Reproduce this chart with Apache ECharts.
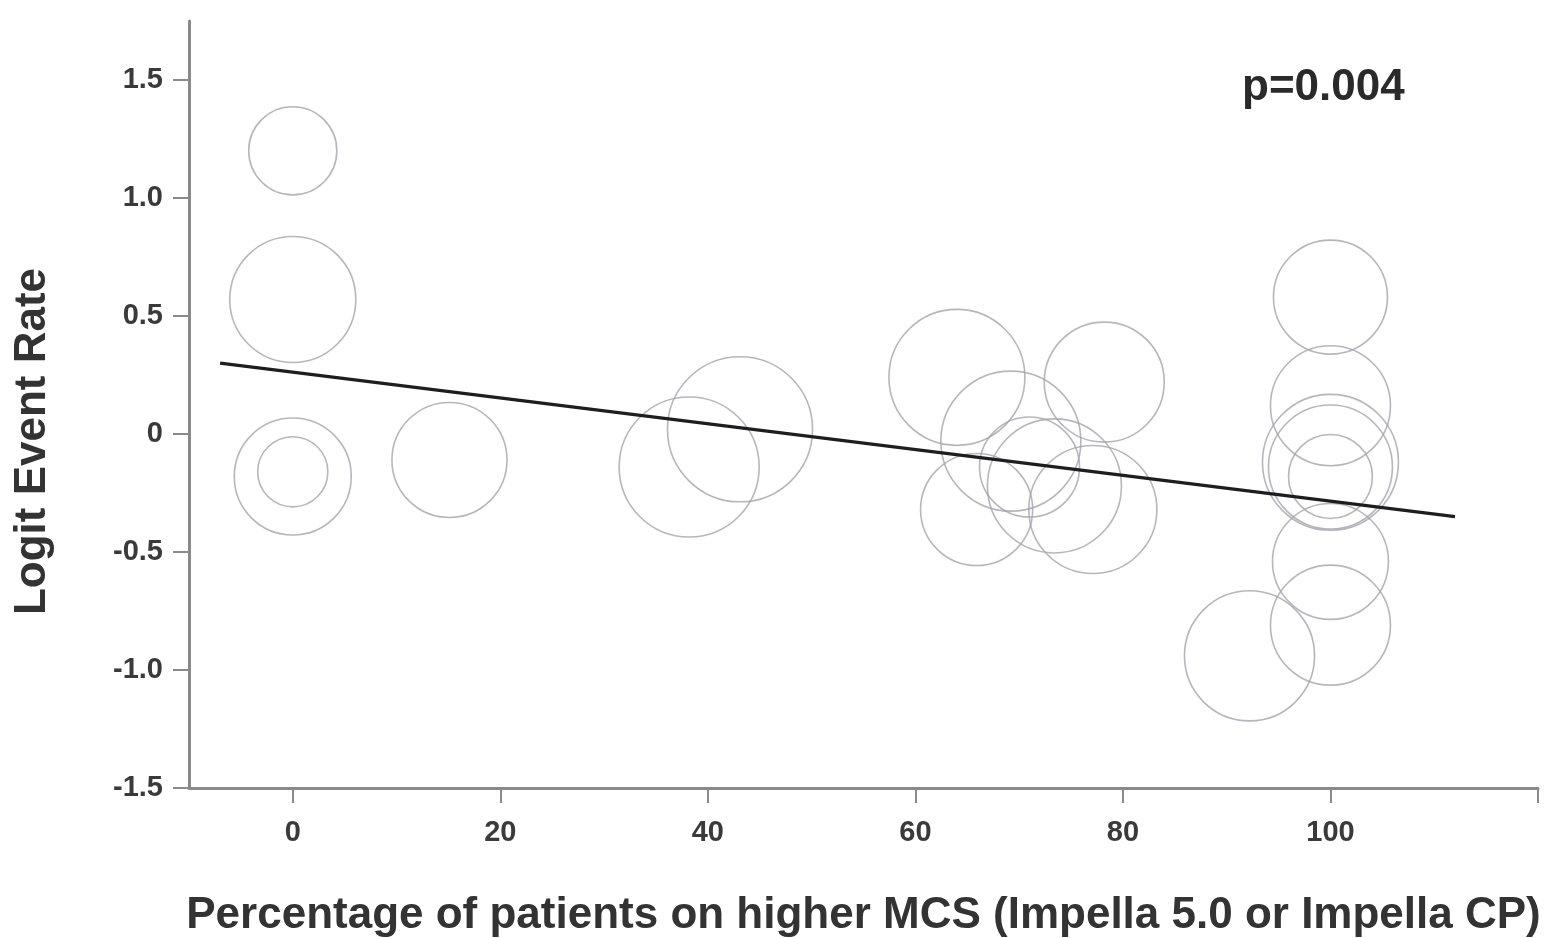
<!DOCTYPE html>
<html>
<head>
<meta charset="utf-8">
<script src="https://cdn.jsdelivr.net/npm/echarts@6/dist/echarts.min.js"></script>
<style>
html,body{margin:0;padding:0;background:#fff;}
#chart{width:1555px;height:938px;}
</style>
</head>
<body>
<div id="chart"></div>
<script>
// Study-level data: percentage on higher MCS, logit event rate, relative study weight
const pctHigherMCS = [0, 0, 0, 0, 15.1, 38.2, 43.1, 64.0, 78.2, 69.2, 71.0, 65.9, 73.4, 77.1,
  100, 100, 100, 100, 100, 100, 100, 92.2];
const logitEventRate = [1.20, 0.57, -0.18, -0.16, -0.11, -0.14, 0.02, 0.24, 0.22, -0.03, -0.14, -0.32, -0.22, -0.32,
  0.58, 0.12, -0.12, -0.14, -0.18, -0.54, -0.81, -0.94];
const studyWeight = [19.4, 39.7, 34.2, 12.3, 33.1, 49.0, 52.6, 46.2, 36.0, 49.0, 25.0, 31.4, 44.9, 41.0,
  32.5, 36.0, 46.2, 38.4, 17.6, 33.6, 36.0, 42.3];
// Meta-regression fitted line endpoints
const fitX = [-7, 112];
const fitY = [0.30, -0.35];
const xTickValues = [0, 20, 40, 60, 80, 100, 120];
const xLabelValues = [0, 20, 40, 60, 80, 100];
const yTickValues = [-1.5, -1.0, -0.5, 0, 0.5, 1.0, 1.5];
const pValueText = 'p=0.004';

const scatterData = pctHigherMCS.map((x, i) => [x, logitEventRate[i], studyWeight[i]]);
const lineData = fitX.map((x, i) => [x, fitY[i]]);

const chart = echarts.init(document.getElementById('chart'), null, {renderer: 'canvas'});
const font = '"Liberation Sans", Arial, sans-serif';
chart.setOption({
  backgroundColor: '#ffffff',
  animation: false,
  grid: {left: 189, right: 17, top: 21, bottom: 150, containLabel: false, outerBoundsMode: 'none'},
  xAxis: {
    type: 'value', min: -10, max: 120, interval: 10,
    name: 'Percentage of patients on higher MCS (Impella 5.0 or Impella CP)',
    nameLocation: 'middle', nameGap: 106,
    nameTextStyle: {fontFamily: font, fontWeight: 'bold', fontSize: 44, color: '#333'},
    axisLine: {show: true, onZero: false, lineStyle: {color: '#8a8a8a', width: 3}},
    axisTick: {show: true, length: 15, customValues: xTickValues, lineStyle: {color: '#8a8a8a', width: 2}},
    axisLabel: {customValues: xLabelValues, margin: 30, fontFamily: font, fontWeight: 'bold', fontSize: 29, color: '#3a3a3a'},
    splitLine: {show: false}
  },
  yAxis: {
    type: 'value', min: -1.5, max: 1.75, interval: 0.5,
    name: 'Logit Event Rate',
    nameLocation: 'middle', nameGap: 134, nameRotate: 90,
    nameTextStyle: {fontFamily: font, fontWeight: 'bold', fontSize: 44, color: '#333', padding: [0, 74, 0, 0]},
    axisLine: {show: true, onZero: false, lineStyle: {color: '#8a8a8a', width: 3}},
    axisTick: {show: true, length: 16, customValues: yTickValues, lineStyle: {color: '#8a8a8a', width: 2}},
    axisLabel: {customValues: yTickValues, margin: 26, fontFamily: font, fontWeight: 'bold', fontSize: 29, color: '#3a3a3a',
      formatter: v => (Math.abs(v) < 1e-9 ? '0' : v.toFixed(1))},
    splitLine: {show: false}
  },
  series: [
    {
      type: 'scatter',
      data: scatterData,
      symbol: 'circle',
      symbolSize: d => 20 * Math.sqrt(d[2]),
      itemStyle: {color: 'rgba(0,0,0,0)', borderColor: '#a4a4ac', borderWidth: 1.6},
      z: 2
    },
    {
      type: 'line',
      data: lineData,
      symbol: 'none',
      lineStyle: {color: '#1e1e1e', width: 3.2},
      z: 3
    }
  ],
  graphic: [{
    type: 'text',
    left: 1242, top: 66,
    style: {text: pValueText, font: 'bold 44px ' + font, fill: '#2a2a2a'}
  }]
});
</script>
</body>
</html>
